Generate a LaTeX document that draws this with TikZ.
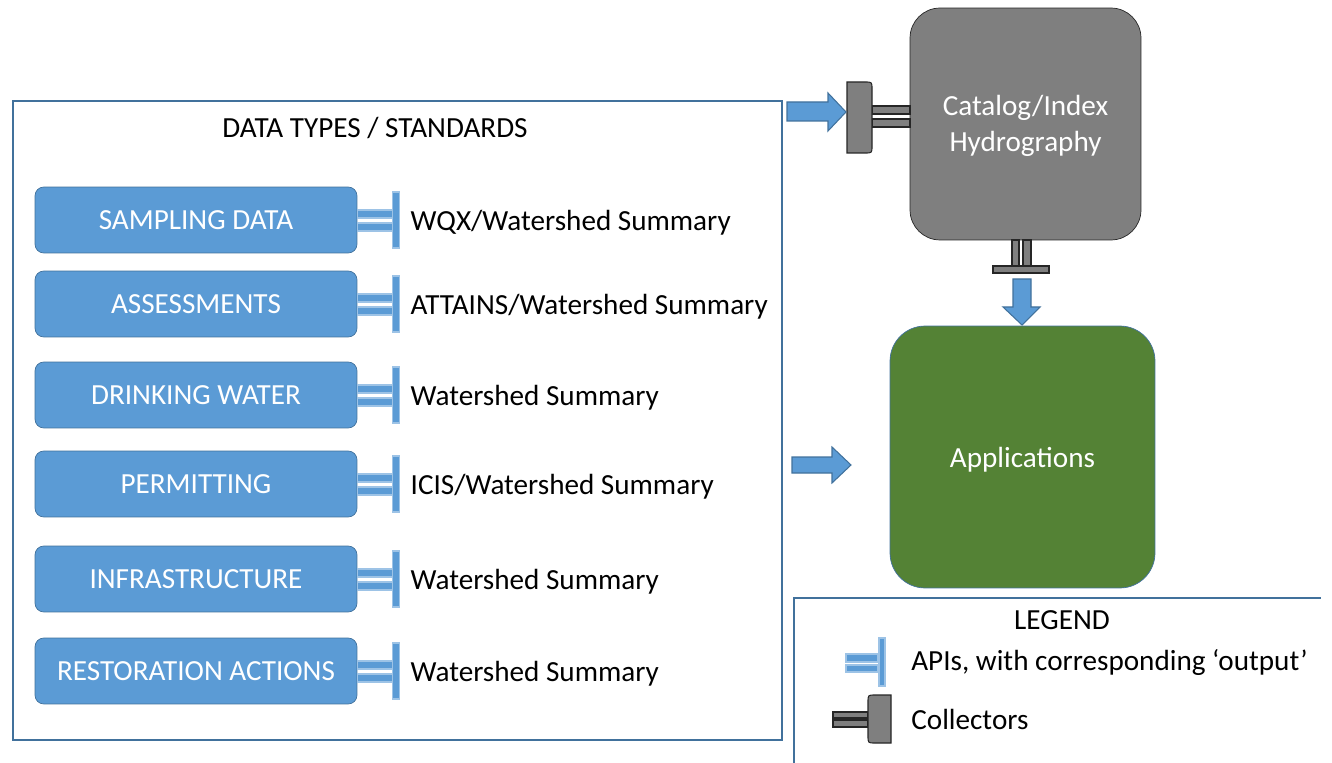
\documentclass[tikz,border=0pt]{standalone}
\usepackage{fontspec}
\setmainfont{Carlito}
\usetikzlibrary{positioning}

\definecolor{boxblue}{HTML}{5B9BD5}
\definecolor{edgeblue}{HTML}{41719C}
\definecolor{lightedge}{HTML}{9DC3E6}
\definecolor{catgray}{HTML}{7F7F7F}
\definecolor{appgreen}{HTML}{548235}

\begin{document}
\begin{tikzpicture}[x=0.02cm,y=-0.02cm,font=\fontsize{16.6}{20.5}\selectfont,
    data node/.style={rectangle,rounded corners=5pt,draw=edgeblue,fill=boxblue,text=white,
                      minimum width=6.44cm,minimum height=1.32cm},
    std node/.style={anchor=west,inner sep=0pt,yshift=-1.6pt},
    api bar/.style={draw=lightedge,fill=boxblue,line width=0.6pt},
    collector/.style={draw=black!85,fill=catgray,line width=0.6pt},
    block arrow/.style={draw=edgeblue,fill=boxblue,line width=0.6pt},
    frame/.style={draw=edgeblue,line width=0.6pt}]

  \useasboundingbox (0,0) rectangle (1332,763);

  % data types panel
  \draw[frame] (13,101) rectangle (782,740);
  \node (title) at (375,128) {DATA TYPES / STANDARDS};

  \node[data node] (sampling) at (196,220) {SAMPLING DATA};
  \node[data node] (assess)   at (196,304) {ASSESSMENTS};
  \node[data node] (drinking) at (196,395) {DRINKING WATER};
  \node[data node] (permit)   at (196,484) {PERMITTING};
  \node[data node] (infra)    at (196,579) {INFRASTRUCTURE};
  \node[data node] (restore)  at (196,671) {RESTORATION ACTIONS};

  % APIs
  \foreach \b in {sampling,assess,drinking,permit,infra,restore} {
    \draw[api bar] ([shift={(0,-10)}]\b.east) rectangle ++(35,8);
    \draw[api bar] ([shift={(0,3)}]\b.east) rectangle ++(35,8);
    \draw[api bar] ([shift={(35,-28)}]\b.east) rectangle ++(7,56);
  }

  \node[std node, right=1.06cm of sampling.east] (wqx)     {WQX/Watershed Summary};
  \node[std node, right=1.06cm of assess.east]   (attains) {ATTAINS/Watershed Summary};
  \node[std node, right=1.06cm of drinking.east] (ws1)     {Watershed Summary};
  \node[std node, right=1.06cm of permit.east]   (icis)    {ICIS/Watershed Summary};
  \node[std node, right=1.06cm of infra.east]    (ws2)     {Watershed Summary};
  \node[std node, right=1.06cm of restore.east]  (ws3)     {Watershed Summary};

  % catalog and applications
  \node[rectangle,rounded corners=0.6cm,draw=black!85,fill=catgray,
        minimum width=4.62cm,minimum height=4.64cm] (catalog) at (1025.5,124) {};
  \node[text=white,align=center] (catalogtext) at ([shift={(0,2)}]catalog.center)
        {Catalog/Index\\Hydrography};
  \node[rectangle,rounded corners=0.7cm,draw=edgeblue,fill=appgreen,
        minimum width=5.3cm,minimum height=5.24cm] (apps) at (1022.5,457) {};
  \node[text=white] (appstext) at ([shift={(0,3)}]apps.center) {Applications};

  % collectors
  \draw[collector] (872,106) rectangle (910,114);
  \draw[collector] (872,119) rectangle (910,127);
  \draw[collector] (847,82) -- (865,82) .. controls (872,82) .. (872,89) -- (872,146)
    .. controls (872,153) .. (865,153) -- (847,153) -- cycle;
  \draw[collector] (1012,240) rectangle (1019,266);
  \draw[collector] (1023,240) rectangle (1031,266);
  \draw[collector] (993,266) rectangle (1049,273);

  % arrows
  \draw[block arrow] (787,102) -- (828,102) -- (828,93) -- (846,112) -- (828,131)
    -- (828,121) -- (787,121) -- cycle;
  \draw[block arrow] (792,457) -- (832,457) -- (832,447) -- (851,465) -- (832,483)
    -- (832,473) -- (792,473) -- cycle;
  \draw[block arrow] (1013,279) -- (1031,279) -- (1031,307) -- (1040,307) -- (1022,325)
    -- (1003,307) -- (1013,307) -- cycle;

  % legend
  \draw[frame] (794,763) -- (794,598) -- (1321,598);
  \node (legend) at (1062,620) {LEGEND};
  \draw[api bar] (846,654) rectangle (878,662);
  \draw[api bar] (846,665) rectangle (878,672);
  \draw[api bar] (879,638) rectangle (885,686);
  \node[std node] (apitext) at (911,660) {APIs, with corresponding ‘output’};
  \draw[collector] (833,712) rectangle (868,718);
  \draw[collector] (833,720) rectangle (868,727);
  \draw[collector] (891,695) -- (875,695) .. controls (868,695) .. (868,702) -- (868,736)
    .. controls (868,743) .. (875,743) -- (891,743) -- cycle;
  \node[std node] (colltext) at (911,717) {Collectors};
\end{tikzpicture}
\end{document}
